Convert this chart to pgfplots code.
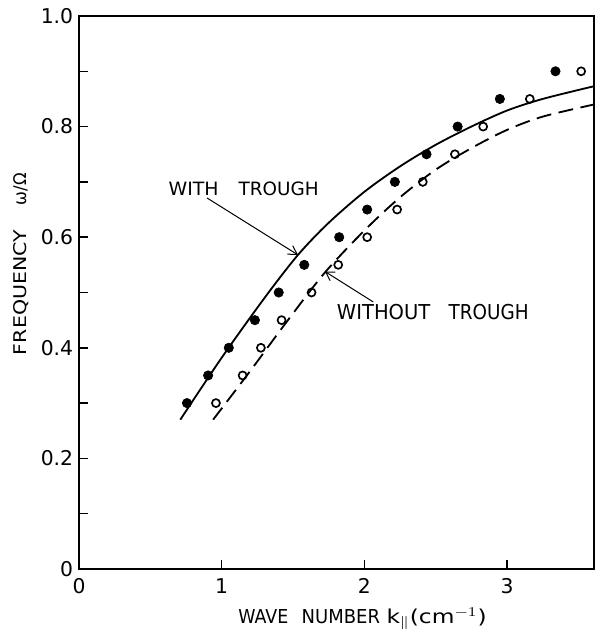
\documentclass[border=0pt]{standalone}
\usepackage{fontspec}
\setmainfont{DejaVu Sans}
\usepackage{graphicx}
\usepackage{pgfplots}
\pgfplotsset{compat=1.18}
\usetikzlibrary{arrows.meta}

\begin{document}
\begin{tikzpicture}
\begin{axis}[
  at={(0,0)}, anchor=south west,
  scale only axis, width=309pt, height=331.8pt,
  xmin=0, xmax=3.61, ymin=0, ymax=1.0,
  xtick={0,1,2,3}, xticklabels={0,1,2,3},
  ytick={0,0.2,0.4,0.6,0.8,1.0}, yticklabels={0,0.2,0.4,0.6,0.8,1.0},
  minor ytick={0.1,0.3,0.5,0.7,0.9},
  tick align=inside, xtick pos=bottom, ytick pos=left,
  major tick length=5.5pt, minor tick length=5.5pt,
  every tick/.style={black, line width=0.9pt},
  axis line style={line width=1pt},
  ticklabel style={font=\fontsize{12.2}{15}\selectfont},
  xticklabel style={yshift=-2.4pt},
  xlabel={\resizebox{30pt}{\height}{WAVE}\hspace{8pt}\resizebox{47pt}{\height}{NUMBER}\hspace{4pt}\resizebox{60pt}{\height}{k$_{\parallel}$(cm$^{-1}$)}},
  xlabel style={at={(axis description cs:0.5505,-0.0985)}, anchor=base, inner sep=0pt, font=\fontsize{11.5}{14}\selectfont},
  ylabel={\resizebox{75pt}{\height}{FREQUENCY}\hspace{15pt}\resizebox{19.2pt}{\height}{ω/Ω}},
  ylabel style={at={(axis description cs:-0.1029,0.5515)}, anchor=base, inner sep=0pt, font=\fontsize{10.5}{12}\selectfont},
  clip=false,
]
% theory curves
\addplot[black, line width=1.1pt, smooth, tension=0.5] coordinates {
 (0.71,0.27) (1.0,0.382) (1.3,0.49) (1.535,0.568) (1.75,0.626) (2.0,0.682)
 (2.25,0.728) (2.5,0.767) (2.75,0.800) (3.0,0.829) (3.25,0.850) (3.61,0.873)};
\addplot[black, line width=1.1pt, smooth, tension=0.5, dash pattern=on 9pt off 4.5pt] coordinates {
 (0.94,0.27) (1.2,0.358) (1.45,0.445) (1.72,0.535) (2.0,0.612) (2.25,0.672)
 (2.5,0.722) (2.75,0.761) (3.0,0.794) (3.25,0.818) (3.61,0.840)};
% with trough (filled)
\addplot[only marks, mark=*, mark size=2.8pt, mark options={fill=black, draw=black}] coordinates {
 (0.757,0.30) (0.905,0.35) (1.050,0.40) (1.233,0.45) (1.400,0.50) (1.579,0.55)
 (1.824,0.60) (2.020,0.65) (2.214,0.70) (2.436,0.75) (2.654,0.80) (2.950,0.85) (3.340,0.90)};
% without trough (open)
\addplot[only marks, mark=o, mark size=2.4pt, mark options={line width=1pt, draw=black, fill=white}] coordinates {
 (0.960,0.30) (1.147,0.35) (1.275,0.40) (1.420,0.45) (1.630,0.50) (1.817,0.55)
 (2.020,0.60) (2.230,0.65) (2.410,0.70) (2.635,0.75) (2.833,0.80) (3.160,0.85) (3.520,0.90)};
% annotations
\draw[line width=0.6pt, -{Straight Barb[length=5pt,width=6pt]}] (axis cs:0.897,0.671) -- (axis cs:1.535,0.568);
\draw[line width=0.6pt, -{Straight Barb[length=5pt,width=6pt]}] (axis cs:2.062,0.483) -- (axis cs:1.724,0.538);
\node[anchor=base west, inner sep=0pt, font=\fontsize{11}{13}\selectfont] at (axis cs:0.626,0.6763)
  {\resizebox{30pt}{\height}{WITH}\hspace{12pt}\resizebox{48pt}{\height}{TROUGH}};
\node[anchor=base west, inner sep=0pt, font=\fontsize{12.3}{15}\selectfont] at (axis cs:1.806,0.4503)
  {\resizebox{56pt}{\height}{WITHOUT}\hspace{11pt}\resizebox{48pt}{\height}{TROUGH}};
\end{axis}
\pgfresetboundingbox
\path[use as bounding box] (-47.4pt,-36pt) rectangle (310.2pt,341.4pt);
\end{tikzpicture}
\end{document}
